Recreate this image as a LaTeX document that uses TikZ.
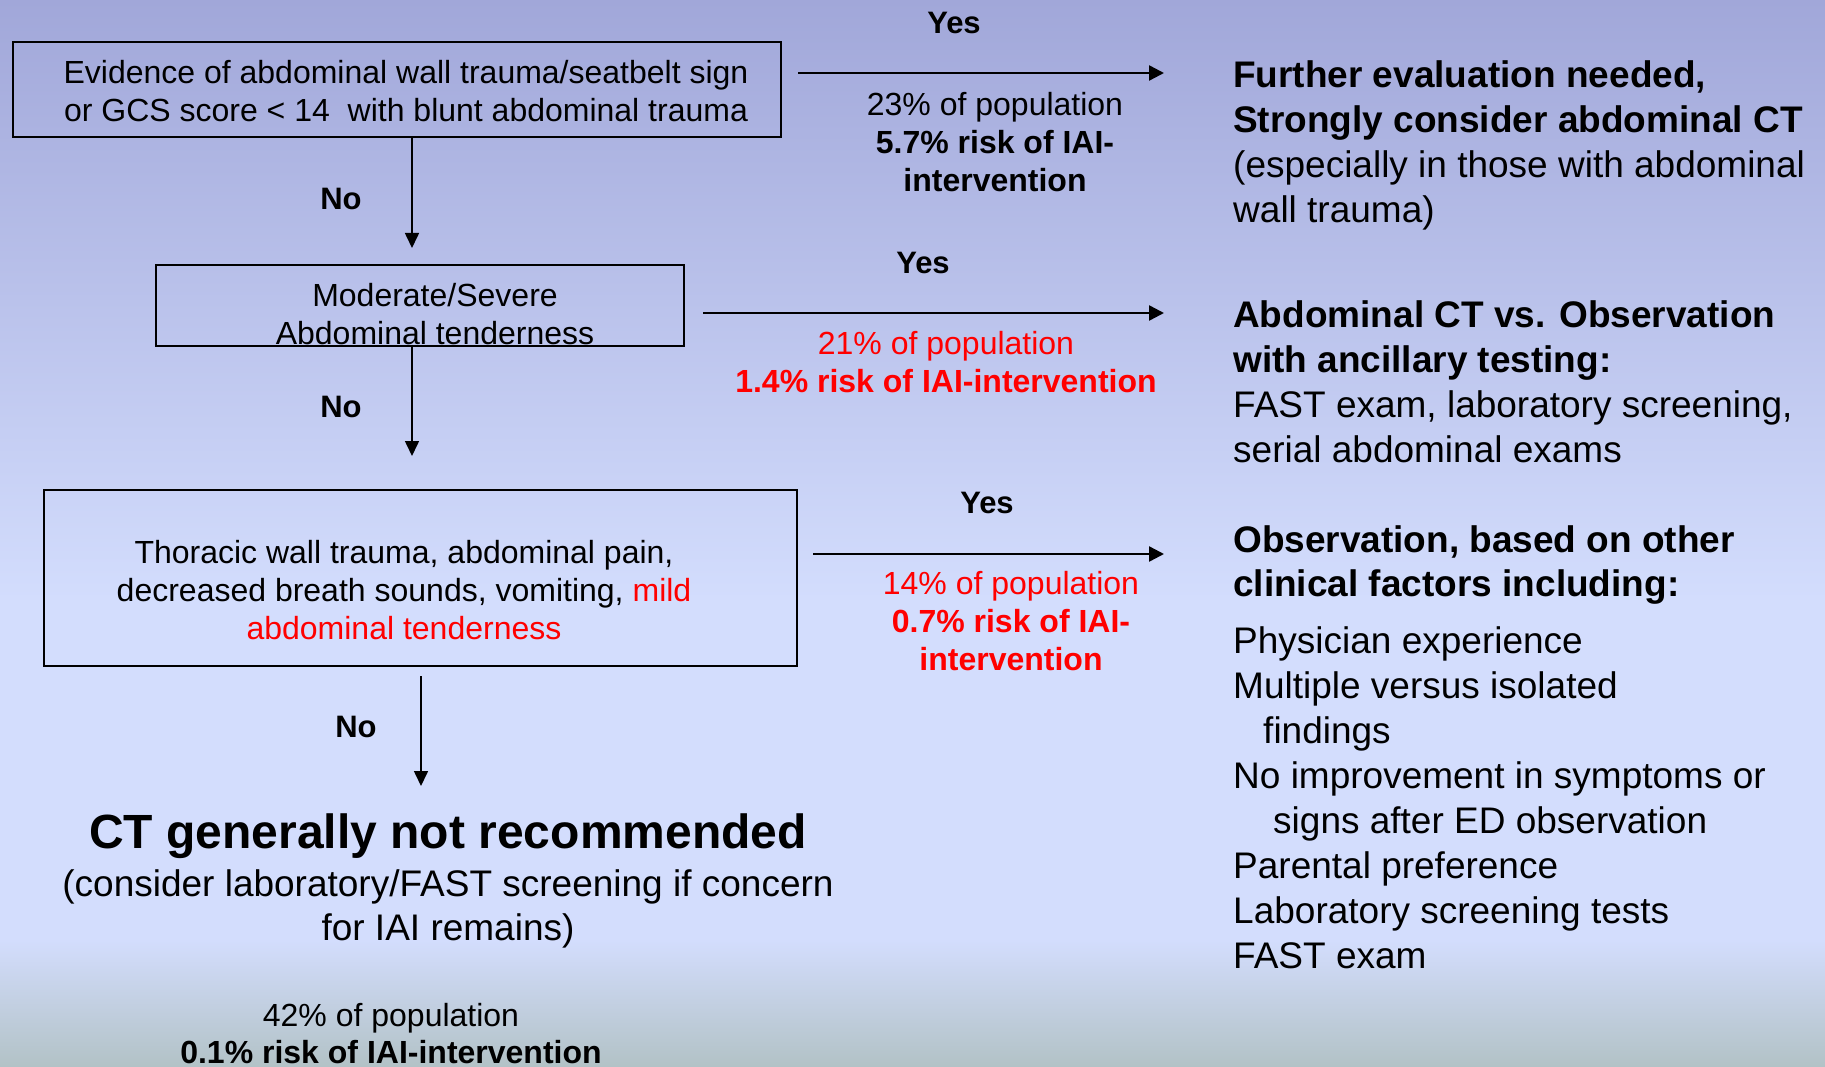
\documentclass[tikz,border=0pt]{standalone}
\usepackage{fontspec}
\setmainfont{Liberation Sans}
\usetikzlibrary{arrows.meta,positioning}
\definecolor{bgtop}{RGB}{161,167,217}
\definecolor{bgmid}{RGB}{211,221,253}
\definecolor{bgbot}{RGB}{178,194,198}
\definecolor{hotred}{RGB}{255,0,0}

\begin{document}
\begin{tikzpicture}[x=1pt, y=-1pt,
  box/.style={draw=black, line width=2.6pt, inner sep=0pt},
  boxtxt/.style={inner sep=0pt, align=center, font=\fontsize{32}{38}\selectfont},
  stat/.style={inner sep=0pt, align=center, font=\fontsize{32}{38}\selectfont},
  yesno/.style={inner sep=0pt, font=\fontsize{31}{37}\selectfont\bfseries},
  advice/.style={inner sep=0pt, anchor=west, align=left, font=\fontsize{37}{45}\selectfont},
  harr/.style={line width=2.4pt, -{Triangle[length=15pt,width=15pt]}},
  varr/.style={line width=1.6pt, -{Triangle[length=15pt,width=14pt]}}]

% background
\useasboundingbox (0,0) rectangle (1825,1067);
\shade[top color=bgtop, bottom color=bgmid] (0,0) rectangle (1825,600);
\fill[bgmid] (0,599) rectangle (1825,941);
\shade[top color=bgmid, bottom color=bgbot] (0,940) rectangle (1825,1067);

% decision boxes
\node[box, minimum width=768, minimum height=95] (evid) at (397,89.5) {};
\node[boxtxt] (evidtxt) at (406,91) {Evidence of abdominal wall trauma/seatbelt sign\\or GCS score < 14\ \ with blunt abdominal trauma};
\node[box, minimum width=528, minimum height=81] (mod) at (420,305.5) {};
\node[boxtxt] (modtxt) at (435,314.5) {Moderate/Severe\\Abdominal tenderness};
\node[box, minimum width=753, minimum height=176] (thor) at (420.5,578) {};
\node[boxtxt] (thortxt) at (404,590) {Thoracic wall trauma, abdominal pain,\\decreased breath sounds, vomiting, \textcolor{hotred}{mild}\\\textcolor{hotred}{abdominal tenderness}};

% arrow ends
\coordinate (yes1end) at (1164,73);
\coordinate (yes2end) at (1164,313);
\coordinate (yes3end) at (1164,554);
\coordinate (no1end) at (412,248);
\coordinate (no2end) at (412,456);
\coordinate (no3end) at (421,786);

\draw[harr, shorten <=16pt] (evid.east |- yes1end) -- (yes1end);
\draw[harr, shorten <=18pt] (mod.east |- yes2end) -- (yes2end);
\draw[harr, shorten <=15pt] (thor.east |- yes3end) -- (yes3end);
\draw[varr] (evid.south -| no1end) -- (no1end);
\draw[varr] (mod.south -| no2end) -- (no2end);
\draw[varr, shorten <=9pt] (thor.south -| no3end) -- (no3end);

% yes / no labels
\node[yesno] (yes1) at (954,23) {Yes};
\node[yesno] (yes2) at (923,263) {Yes};
\node[yesno] (yes3) at (987,503) {Yes};
\node[yesno] (no1) at (341,199) {No};
\node[yesno] (no2) at (341,407) {No};
\node[yesno] (no3) at (356,727) {No};

% population figures
\node[stat] (stat1) at (995,142) {23\% of population\\\textbf{5.7\% risk of IAI-}\\\textbf{intervention}};
\node[stat, text=hotred] (stat2) at (946,362.5) {21\% of population\\\textbf{1.4\% risk of IAI-intervention}};
\node[stat, text=hotred] (stat3) at (1011,621.5) {14\% of population\\\textbf{0.7\% risk of IAI-}\\\textbf{intervention}};
\node[stat, font=\fontsize{32}{37}\selectfont] (stat4) at (391,1033.5) {42\% of population\\\textbf{0.1\% risk of IAI-intervention}};

% outcomes
\node[advice] (further) at (1233,145.5) {\textbf{Further evaluation needed,}\\\textbf{Strongly consider abdominal CT}\\(especially in those with abdominal\\wall trauma)};
\node[advice] (ctobs) at (1233,381.5) {\textbf{Abdominal CT vs. Observation}\\\textbf{with ancillary testing:}\\FAST exam, laboratory screening,\\serial abdominal exams};
\node[advice, font=\fontsize{37}{44}\selectfont\bfseries] (obshead) at (1233,565) {Observation, based on other\\clinical factors including:};
\node[advice] (obslist) at (1233,798) {Physician experience\\Multiple versus isolated\\\hspace*{30pt}findings\\No improvement in symptoms or\\\hspace*{40pt}signs after ED observation\\Parental preference\\Laboratory screening tests\\FAST exam};
\node[inner sep=0pt, font=\fontsize{48}{56}\selectfont\bfseries] (noct) at (448,836) {CT generally not recommended};
\node[inner sep=0pt, align=center, font=\fontsize{37}{44}\selectfont] (consider) at (448,909) {(consider laboratory/FAST screening if concern\\for IAI remains)};
\end{tikzpicture}
\end{document}
